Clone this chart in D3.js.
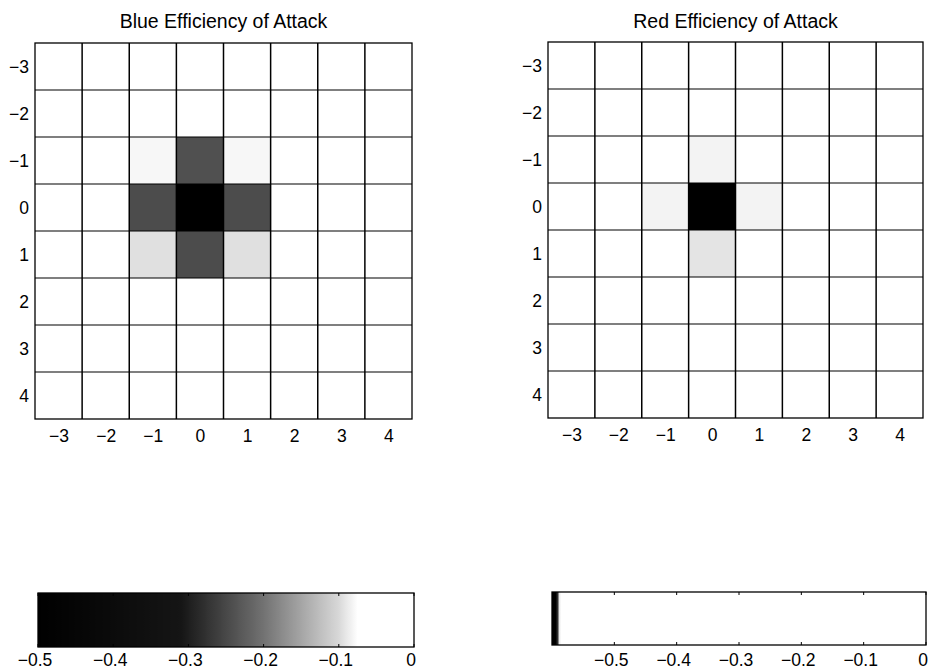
<!DOCTYPE html>
<html>
<head>
<meta charset="utf-8">
<script src="https://cdn.jsdelivr.net/npm/d3@7"></script>
<style>
  body { margin: 0; background: #fff; }
  svg text { font-family: "Liberation Sans", Arial, Helvetica, sans-serif; fill: #000; }
</style>
</head>
<body>
<svg id="vizSVG" width="931" height="671"></svg>
<script>
// Cell positions (columns left->right, rows top->bottom)
const xCats = [-3, -2, -1, 0, 1, 2, 3, 4]
const yCats = [-3, -2, -1, 0, 1, 2, 3, 4]

// Blue efficiency of attack, one row per y
const blueValues = [
    [0, 0, 0, 0, 0, 0, 0, 0],
    [0, 0, 0, 0, 0, 0, 0, 0],
    [0, 0, -0.08, -0.24, -0.08, 0, 0, 0],
    [0, 0, -0.245, -0.5, -0.245, 0, 0, 0],
    [0, 0, -0.095, -0.245, -0.095, 0, 0, 0],
    [0, 0, 0, 0, 0, 0, 0, 0],
    [0, 0, 0, 0, 0, 0, 0, 0],
    [0, 0, 0, 0, 0, 0, 0, 0],
]

// Red efficiency of attack
const redValues = [
    [0, 0, 0, 0, 0, 0, 0, 0],
    [0, 0, 0, 0, 0, 0, 0, 0],
    [0, 0, 0, -0.587, 0, 0, 0, 0],
    [0, 0, -0.587, -0.6, -0.587, 0, 0, 0],
    [0, 0, 0, -0.589, 0, 0, 0, 0],
    [0, 0, 0, 0, 0, 0, 0, 0],
    [0, 0, 0, 0, 0, 0, 0, 0],
    [0, 0, 0, 0, 0, 0, 0, 0],
]

const colorbarTicks = [-0.5, -0.4, -0.3, -0.2, -0.1, 0]
const blueRange = [-0.5, 0]
const redRange = [-0.6, 0]

const titles = ['Blue Efficiency of Attack', 'Red Efficiency of Attack']

// grey maps as they came out in print
const blueColor = d3.scaleLinear()
    .domain([-0.5, -0.31, -0.2, -0.1, -0.075, 0])
    .range(['#000', '#151515', '#727272', '#d8d8d8', '#fff', '#fff'])
    .clamp(true)
const redColor = d3.scaleLinear()
    .domain([-0.6, -0.5915, -0.589, -0.587, -0.585, 0])
    .range(['#000', '#000', '#e4e4e4', '#f3f3f3', '#fff', '#fff'])
    .clamp(true)

const svg = d3.select('#vizSVG')
const fmt = v => (v < 0 ? '\u2212' : '') + Math.abs(v)
const TICK_FONT = 17.5

const panels = [
    { values: blueValues, color: blueColor, title: titles[0], range: blueRange,
      ax: [35, 412], ay: [43, 419], cb: [38, 414], cy: [593, 647] },
    { values: redValues, color: redColor, title: titles[1], range: redRange,
      ax: [548, 923], ay: [42, 418], cb: [552, 926], cy: [592, 645] },
]

panels.forEach((p, pi) => {
    const g = svg.append('g')
    const x = d3.scaleLinear().domain([xCats[0] - 0.5, xCats[xCats.length - 1] + 0.5]).range(p.ax)
    const y = d3.scaleLinear().domain([yCats[0] - 0.5, yCats[yCats.length - 1] + 0.5]).range(p.ay)

    const cells = []
    yCats.forEach((yv, i) => xCats.forEach((xv, j) => cells.push({ x: xv, y: yv, v: p.values[i][j] })))

    g.selectAll('rect.cell')
        .data(cells)
        .join('rect')
        .attr('class', 'cell')
        .attr('x', d => x(d.x - 0.5))
        .attr('y', d => y(d.y - 0.5))
        .attr('width', d => x(d.x + 0.5) - x(d.x - 0.5))
        .attr('height', d => y(d.y + 0.5) - y(d.y - 0.5))
        .attr('fill', d => p.color(d.v))

    // grid lines on cell edges
    const edgesX = xCats.slice(1).map(v => v - 0.5)
    const edgesY = yCats.slice(1).map(v => v - 0.5)
    g.selectAll('line.vx')
        .data(edgesX)
        .join('line')
        .attr('x1', d => x(d)).attr('x2', d => x(d))
        .attr('y1', p.ay[0]).attr('y2', p.ay[1])
        .attr('stroke', '#000').attr('stroke-width', 1.5)
    g.selectAll('line.hy')
        .data(edgesY)
        .join('line')
        .attr('y1', d => y(d)).attr('y2', d => y(d))
        .attr('x1', p.ax[0]).attr('x2', p.ax[1])
        .attr('stroke', '#000').attr('stroke-width', 1.2)

    g.append('rect')
        .attr('x', p.ax[0]).attr('y', p.ay[0])
        .attr('width', p.ax[1] - p.ax[0]).attr('height', p.ay[1] - p.ay[0])
        .attr('fill', 'none').attr('stroke', '#000').attr('stroke-width', 1.3)

    // axes labels
    const xAxis = g.append('g')
        .attr('transform', `translate(0,${p.ay[1]})`)
        .call(d3.axisBottom(x).tickValues(xCats).tickSize(0).tickPadding(11).tickFormat(fmt))
    const yAxis = g.append('g')
        .attr('transform', `translate(${p.ax[0]},0)`)
        .call(d3.axisLeft(y).tickValues(yCats).tickSize(0).tickPadding(6).tickFormat(fmt))
    ;[xAxis, yAxis].forEach(a => {
        a.select('.domain').remove()
        a.attr('font-size', TICK_FONT).attr('font-family', '"Liberation Sans", Arial, sans-serif')
        a.selectAll('text').attr('font-size', TICK_FONT)
    })

    g.append('text')
        .attr('x', (p.ax[0] + p.ax[1]) / 2)
        .attr('y', 28)
        .attr('text-anchor', 'middle')
        .attr('font-size', 19.5)
        .text(p.title)

    // colorbar
    const cx = d3.scaleLinear().domain(p.range).range(p.cb)
    const gradId = 'cbgrad' + pi
    const grad = svg.append('defs').append('linearGradient').attr('id', gradId)
    d3.range(0, 1.0001, 0.005).forEach(t => {
        const v = p.range[0] + t * (p.range[1] - p.range[0])
        grad.append('stop').attr('offset', t).attr('stop-color', p.color(v))
    })
    const cg = svg.append('g')
    cg.append('rect')
        .attr('x', p.cb[0]).attr('y', p.cy[0])
        .attr('width', p.cb[1] - p.cb[0]).attr('height', p.cy[1] - p.cy[0])
        .attr('fill', `url(#${gradId})`)
        .attr('stroke', '#000').attr('stroke-width', 1.3)
    cg.selectAll('line.tt')
        .data(colorbarTicks)
        .join('line')
        .attr('x1', d => cx(d)).attr('x2', d => cx(d))
        .attr('y1', p.cy[0]).attr('y2', p.cy[0] + 3)
        .attr('stroke', '#000')
    cg.selectAll('line.tb')
        .data(colorbarTicks)
        .join('line')
        .attr('x1', d => cx(d)).attr('x2', d => cx(d))
        .attr('y1', p.cy[1]).attr('y2', p.cy[1] - 3)
        .attr('stroke', '#000')
    cg.selectAll('text.cl')
        .data(colorbarTicks)
        .join('text')
        .attr('x', d => cx(d) - 3)
        .attr('y', 666)
        .attr('text-anchor', 'middle')
        .attr('font-size', TICK_FONT)
        .text(fmt)
})
</script>
</body>
</html>
